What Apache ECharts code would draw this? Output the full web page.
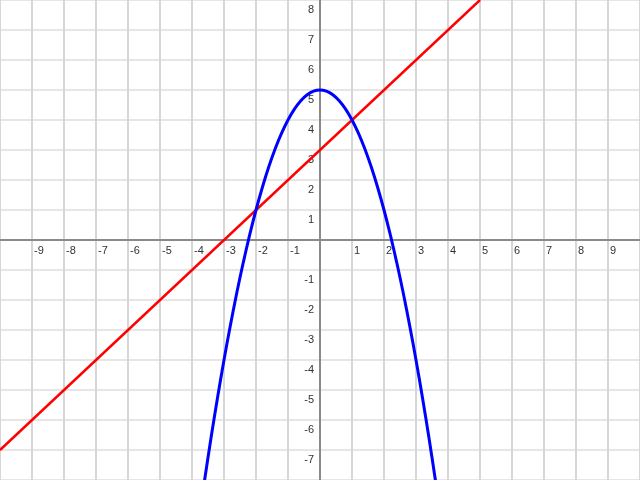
<!DOCTYPE html>
<html>
<head>
<meta charset="utf-8">
<script src="https://cdn.jsdelivr.net/npm/echarts@6/dist/echarts.min.js"></script>
<style>html,body{margin:0;padding:0;background:#fff}#c{width:640px;height:480px}</style>
</head>
<body>
<div id="c"></div>
<script>
// Straight line (red) endpoints
var lineX = [-10, 5];
var lineY = [-7, 8];
// Parabola (blue) points
var parabolaX = [-3.7, -3.6, -3.4, -3.2, -3.0, -2.8, -2.6, -2.4, -2.2, -2.0, -1.8, -1.6, -1.4, -1.2, -1.0, -0.8, -0.6, -0.4, -0.2, 0,
                 0.2, 0.4, 0.6, 0.8, 1.0, 1.2, 1.4, 1.6, 1.8, 2.0, 2.2, 2.4, 2.6, 2.8, 3.0, 3.2, 3.4, 3.6, 3.7];
var parabolaY = [-8.69, -7.96, -6.56, -5.24, -4.0, -2.84, -1.76, -0.76, 0.16, 1.0, 1.76, 2.44, 3.04, 3.56, 4.0, 4.36, 4.64, 4.84, 4.96, 5.0,
                 4.96, 4.84, 4.64, 4.36, 4.0, 3.56, 3.04, 2.44, 1.76, 1.0, 0.16, -0.76, -1.76, -2.84, -4.0, -5.24, -6.56, -7.96, -8.69];
// Tick labels shown
var xTickLabels = [-9, -8, -7, -6, -5, -4, -3, -2, -1, 1, 2, 3, 4, 5, 6, 7, 8, 9];
var yTickLabels = [-7, -6, -5, -4, -3, -2, -1, 1, 2, 3, 4, 5, 6, 7, 8];

function zip(a, b) { return a.map(function (v, i) { return [v, b[i]]; }); }

var labelFont = {fontFamily: 'Liberation Sans, Arial, sans-serif', fontSize: 11, color: '#333'};
var chart = echarts.init(document.getElementById('c'), null, {renderer: 'canvas'});
chart.setOption({
  animation: false,
  backgroundColor: '#ffffff',
  grid: {left: 0, right: 0, top: 0, bottom: 0, containLabel: false, outerBoundsMode: 'none'},
  xAxis: [{
    type: 'value', min: -10, max: 10, interval: 1,
    axisLine: {onZero: true, lineStyle: {color: '#8a8a8a', width: 2}},
    axisTick: {show: false},
    splitLine: {show: true, lineStyle: {color: '#d6d6d6', width: 2}},
    axisLabel: {show: false}
  }, {
    type: 'value', min: -10, max: 10, interval: 1, position: 'bottom', offset: -240,
    axisLine: {show: false, onZero: false},
    axisTick: {show: false},
    splitLine: {show: false},
    axisLabel: Object.assign({
      show: true, margin: 5, align: 'left', padding: [0, 0, 0, 2],
      formatter: function (v) { return xTickLabels.indexOf(Math.round(v)) >= 0 ? String(Math.round(v)) : ''; }
    }, labelFont)
  }],
  yAxis: [{
    type: 'value', min: -8, max: 8, interval: 1,
    axisLine: {onZero: true, lineStyle: {color: '#8a8a8a', width: 2}},
    axisTick: {show: false},
    splitLine: {show: true, lineStyle: {color: '#e6e6e6', width: 2}},
    axisLabel: {show: false}
  }, {
    type: 'value', min: -8, max: 8, interval: 1, position: 'left', offset: -320,
    axisLine: {show: false, onZero: false},
    axisTick: {show: false},
    splitLine: {show: false},
    axisLabel: Object.assign({
      show: true, margin: 6, align: 'right', verticalAlign: 'top', padding: [4, 0, 0, 0],
      formatter: function (v) { return yTickLabels.indexOf(Math.round(v)) >= 0 ? String(Math.round(v)) : ''; }
    }, labelFont)
  }],
  series: [
    {
      type: 'line', xAxisIndex: 0, yAxisIndex: 0, data: zip(lineX, lineY), showSymbol: false, symbol: 'none',
      lineStyle: {color: '#ff0000', width: 2.5}, z: 3
    },
    {
      type: 'line', xAxisIndex: 0, yAxisIndex: 0, data: zip(parabolaX, parabolaY), showSymbol: false, symbol: 'none', smooth: 0.3,
      lineStyle: {color: '#0000ff', width: 3}, z: 4
    }
  ]
});
</script>
</body>
</html>
